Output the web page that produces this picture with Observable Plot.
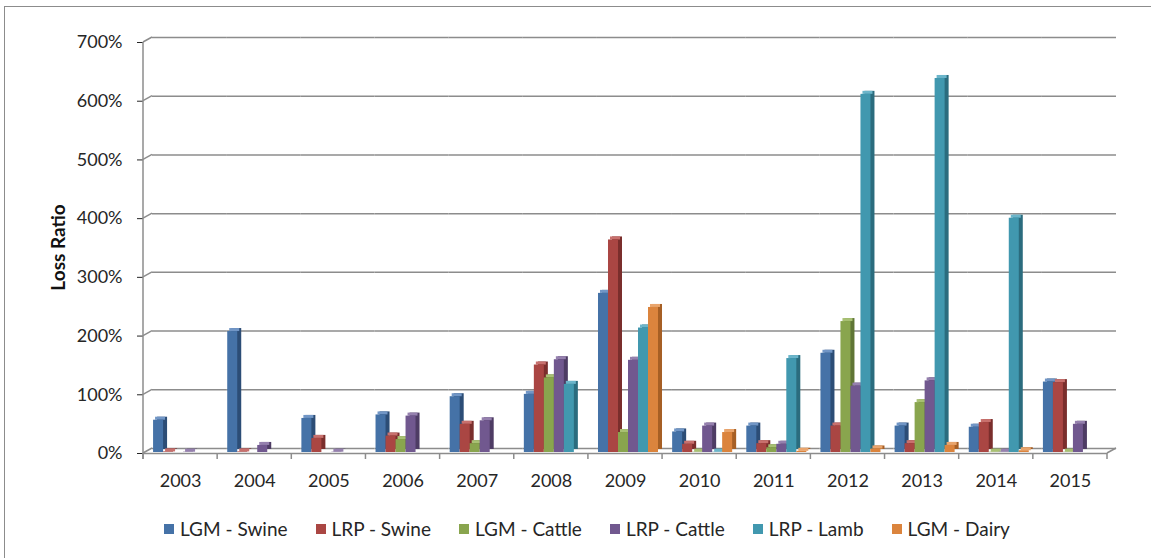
<!DOCTYPE html>
<html>
<head>
<meta charset="utf-8">
<script src="https://cdn.jsdelivr.net/npm/d3@7"></script>
<script src="https://cdn.jsdelivr.net/npm/@observablehq/plot@0.6"></script>
<style>
  html, body { margin: 0; padding: 0; background: #fff; overflow: hidden; }
  body { width: 1151px; height: 558px; position: relative; font-family: Lato, "Open Sans", sans-serif; }
  #frame { position: absolute; left: 4px; top: 6px; width: 1200px; height: 600px;
           border-left: 1.5px solid #8c8c8c; border-top: 1.5px solid #8c8c8c; }
  #chart { position: absolute; left: 0; top: 0; }
  #legend { position: absolute; left: 164px; top: 516px; display: flex; gap: 28px;
            font-size: 19px; line-height: 26px; color: #262626; white-space: nowrap; }
  #legend .item { display: flex; align-items: center; }
  #legend .sw { width: 10px; height: 10px; margin-right: 6px; }
</style>
</head>
<body>
<div id="frame"></div>
<div id="chart"></div>
<div id="legend"></div>
<script>
// Livestock program loss ratios by year (1 = 100%)
const years = ["2003", "2004", "2005", "2006", "2007", "2008", "2009", "2010", "2011", "2012", "2013", "2014", "2015"];
const series = ["LGM - Swine", "LRP - Swine", "LGM - Cattle", "LRP - Cattle", "LRP - Lamb", "LGM - Dairy"];
const yTicks = [0, 1, 2, 3, 4, 5, 6, 7];

const lgmSwine  = [0.55, 2.06, 0.58, 0.64, 0.95, 0.99, 2.71, 0.35, 0.45, 1.69, 0.45, 0.43, 1.20];
const lrpSwine  = [0.01, 0.01, 0.24, 0.28, 0.48, 1.49, 3.62, 0.14, 0.15, 0.45, 0.15, 0.51, 1.19];
const lgmCattle = [null, null, null, 0.22, 0.15, 1.27, 0.34, 0.005, 0.08, 2.23, 0.85, 0.005, 0.005];
const lrpCattle = [0.005, 0.12, 0.005, 0.62, 0.54, 1.58, 1.57, 0.45, 0.14, 1.13, 1.22, 0.005, 0.48];
const lrpLamb   = [null, null, null, null, null, 1.16, 2.12, 0.005, 1.60, 6.10, 6.37, 3.99, null];
const lgmDairy  = [null, null, null, null, null, null, 2.47, 0.34, 0.02, 0.06, 0.12, 0.03, null];

const values = [lgmSwine, lrpSwine, lgmCattle, lrpCattle, lrpLamb, lgmDairy];

// face colours: front, right side (shaded), top (lit)
const frontColors = ["#4572A7", "#AA4643", "#89A54E", "#71588F", "#4198AF", "#DB843D"];
const sideColors  = ["#2C4D76", "#7A2E2C", "#5F7535", "#4E3C64", "#2B6C7E", "#A65F25"];
const topColors   = ["#7196C6", "#C8706D", "#A8C073", "#9580AE", "#6BB5CA", "#E9A56D"];

const rows = [];
series.forEach((s, i) => years.forEach((yr, j) => {
  const v = values[i][j];
  if (v != null) rows.push({year: yr, series: s, value: v});
}));
const bySeries = s => rows.filter(d => d.series === s);

const gridColor = "#8c8c8c";

const chart = Plot.plot({
  width: 1151,
  height: 500,
  marginTop: 42,
  marginBottom: 47,
  marginLeft: 143,
  marginRight: 44,
  style: {fontFamily: "Lato, 'Open Sans', sans-serif", fontSize: "18px", color: "#262626", background: "transparent"},
  fx: {domain: years, paddingInner: 0, paddingOuter: 0, round: false, axis: "bottom", tickSize: 0, tickPadding: 21, label: null},
  x: {domain: series, paddingInner: 0, paddingOuter: 0.707, round: false, axis: null},
  y: {domain: [0, 7], ticks: yTicks, tickFormat: d3.format(".0%"), tickSize: 6, tickPadding: 15, label: null},
  marks: [
    // back wall gridlines and back floor edge
    Plot.ruleY(yTicks, {dx: 9, dy: -5, stroke: gridColor, strokeWidth: 1.5}),
    // front floor edge
    Plot.ruleY([0], {stroke: gridColor, strokeWidth: 1.5}),
    // shaded right sides
    ...series.map((s, i) => Plot.barY(bySeries(s), {fx: "year", x: "series", y: "value", fill: sideColors[i], inset: 0, dx: 7, dy: -4})),
    // lit tops
    ...series.map((s, i) => Plot.barY(bySeries(s), {fx: "year", x: "series", y1: "value", y2: "value", fill: topColors[i], inset: 0, insetTop: -3, dx: 5, dy: -1})),
    // front faces
    ...series.map((s, i) => Plot.barY(bySeries(s), {fx: "year", x: "series", y: "value", fill: frontColors[i], inset: 0, dx: 3, dy: -1}))
  ]
});

// Left wall edge, floor corners and category dividers drawn from the chart's own scales
const fx = chart.scale("fx");
const y = chart.scale("y");
const left = fx.apply(years[0]);
const right = fx.apply(years[years.length - 1]) + fx.bandwidth;
const svg = d3.select(chart);
const deco = svg.append("g").attr("stroke", gridColor).attr("stroke-width", 1.5).attr("fill", "none");
deco.append("line").attr("x1", left).attr("x2", left).attr("y1", y.apply(0) + 6).attr("y2", y.apply(7));
yTicks.forEach(t => {
  deco.append("line").attr("x1", left).attr("y1", y.apply(t)).attr("x2", left + 9).attr("y2", y.apply(t) - 5);
});
deco.append("line").attr("x1", right).attr("y1", y.apply(0)).attr("x2", right + 9).attr("y2", y.apply(0) - 5);
years.forEach(yr => {
  const xb = fx.apply(yr);
  deco.append("line").attr("x1", xb).attr("x2", xb).attr("y1", y.apply(0)).attr("y2", y.apply(0) + 6);
});
deco.append("line").attr("x1", right).attr("x2", right).attr("y1", y.apply(0)).attr("y2", y.apply(0) + 6);

// Axis title
svg.append("text")
  .attr("transform", `translate(${left - 85},${(y.apply(0) + y.apply(7)) / 2}) rotate(-90)`)
  .attr("text-anchor", "middle")
  .attr("dy", "0.35em")
  .attr("font-weight", "bold")
  .attr("font-size", 19)
  .attr("fill", "#111")
  .text("Loss Ratio");

document.getElementById("chart").append(chart);

// Legend
const legend = d3.select("#legend");
series.forEach((s, i) => {
  const item = legend.append("div").attr("class", "item");
  item.append("div").attr("class", "sw").style("background", frontColors[i]);
  item.append("span").text(s);
});
</script>
</body>
</html>
